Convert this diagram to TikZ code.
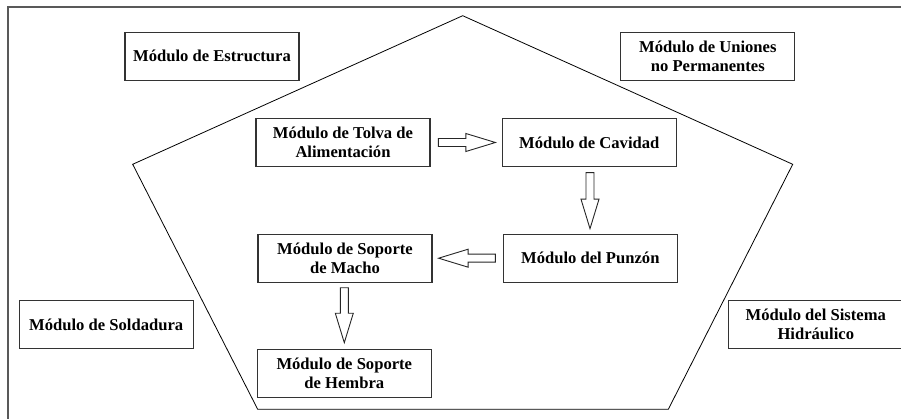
\documentclass[tikz,border=0pt]{standalone}
\usepackage{fontspec}
\setmainfont{Liberation Serif}
\usetikzlibrary{calc}
\tikzset{
  modbox/.style={draw=black!80, line width=1.2pt, fill=white, minimum width=174pt, minimum height=48pt,
    inner sep=2pt, align=center, font=\fontsize{16.6}{19.4}\selectfont\bfseries, text=black},
  blockarr/.style={draw=black!85, line width=0.9pt, fill=white, line join=miter},
  pent/.style={draw=black, line width=0.8pt},
  frameline/.style={draw=black!65, line width=1.3pt}
}
\newcommand{\blkarrow}[2]{%
  \coordinate (bT) at #1; \coordinate (bP) at #2;
  \coordinate (bB) at ($(bP)!29.5pt!(bT)$);
  \draw[blockarr] ($(bT)!4pt!90:(bP)$) -- ($(bB)!4pt!90:(bP)$) -- ($(bB)!9pt!90:(bP)$) -- (bP)
    -- ($(bB)!9pt!-90:(bP)$) -- ($(bB)!4pt!-90:(bP)$) -- ($(bT)!4pt!-90:(bP)$) -- cycle;}
\begin{document}
\begin{tikzpicture}[x=1pt,y=-1pt]
\useasboundingbox (0,0) rectangle (901,419);
% frame
\coordinate (f1) at (8,419); \coordinate (f2) at (8,7); \coordinate (f3) at (901,7);
\draw[frameline] (f1) -- (f2) -- (f3);
% pentagon
\coordinate (p1) at (462.7,15.7);
\coordinate (p2) at (792.7,164.3);
\coordinate (p3) at (668.3,409.3);
\coordinate (p4) at (257.7,409.3);
\coordinate (p5) at (132.7,164.3);
\draw[pent] (p1) -- (p2) -- (p3) -- (p4) -- (p5) -- cycle;
% boxes
\node[modbox] (est) at (212,56.3) {Módulo de Estructura};
\node[modbox] (uni) at (707.8,56.5) {Módulo de Uniones\\no Permanentes};
\node[modbox] (tol) at (343,142.5) {Módulo de Tolva de\\Alimentación};
\node[modbox] (cav) at (589.3,142.5) {Módulo de Cavidad};
\node[modbox] (pun) at (590.3,258.2) {Módulo del Punzón};
\node[modbox] (mac) at (345,258.2) {Módulo de Soporte\\de Macho};
\node[modbox] (hem) at (344.3,373.3) {Módulo de Soporte\\de Hembra};
\node[modbox] (sol) at (106.2,324.5) {Módulo de Soldadura};
\node[modbox] (hid) at (815.8,324.5) {Módulo del Sistema\\Hidráulico};
% block arrows
\blkarrow{($(tol.east)+(7.7,0)$)}{($(cav.west)+(-6.3,0)$)}
\blkarrow{($(cav.south)+(0.7,5.6)$)}{($(cav.south)+(0.7,61.6)$)}
\blkarrow{($(pun.west)+(-7.3,0)$)}{($(mac.east)+(6,0)$)}
\blkarrow{($(mac.south)+(-0.7,5)$)}{($(hem.north)+(0,-6)$)}
\end{tikzpicture}
\end{document}
